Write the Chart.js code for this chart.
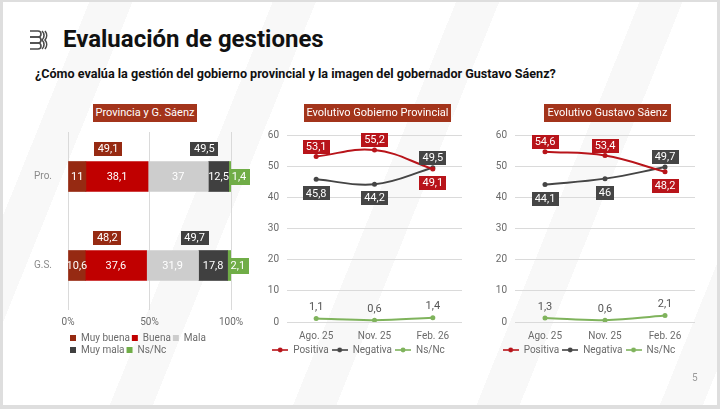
<!DOCTYPE html>
<html>
<head>
<meta charset="utf-8">
<script src="https://cdn.jsdelivr.net/npm/chart.js@4.4.1/dist/chart.umd.min.js"></script>
<style>
html, body { margin: 0; padding: 0; }
body { width: 720px; height: 409px; overflow: hidden; position: relative; background: #dedede; font-family: Roboto, sans-serif; }
#page { position: absolute; left: 3px; top: 2px; right: 3px; bottom: 4px;
  background: repeating-linear-gradient(112deg, #ffffff 0 80px, #f8f8f8 80px 120px, #ffffff 120px 170px); }
.abs { position: absolute; }
#logo { left: 29px; top: 29px; width: 20px; height: 22px; }
#title { left: 63px; top: 27px; font-size: 24px; line-height: 24px; font-weight: 700; color: #111; white-space: nowrap; }
#subtitle { left: 35px; top: 67px; font-size: 12.6px; line-height: 13px; font-weight: 700; color: #111; white-space: nowrap; }
.hdr { top: 104px; height: 18px; line-height: 18px; background: #a3341b; color: #fff; font-size: 11px; text-align: center; white-space: nowrap; }
.box { position: absolute; }
#pnum { left: 692px; top: 372px; font-size: 10px; color: #9a9a9a; }
</style>
</head>
<body>
<div id="page"></div>
<svg id="logo" class="abs" viewBox="0 0 20 22">
  <g fill="none" stroke="#4a4a4a" stroke-width="1.6">
    <path d="M1 2 H9 A3 3 0 0 1 9 8 H1"/>
    <path d="M1 8 H9 A3 3 0 0 1 9 14 H1"/>
    <path d="M1 14 H9 A3 3 0 0 1 9 20 H1"/>
    <path d="M13 2 A6 6 0 0 1 13 11 A6 6 0 0 1 13 20"/>
    <path d="M16 2 A7 7 0 0 1 16 11 A7 7 0 0 1 16 20"/>
  </g>
</svg>
<div id="title" class="abs">Evaluación de gestiones</div>
<div id="subtitle" class="abs">¿Cómo evalúa la gestión del gobierno provincial y la imagen del gobernador Gustavo Sáenz?</div>

<div class="box" style="left:30px;top:118px;width:230px;height:251px;"><canvas id="bars"></canvas></div>
<div class="box" style="left:255px;top:121px;width:215px;height:248px;"><canvas id="prov"></canvas></div>
<div class="box" style="left:483px;top:121px;width:220px;height:248px;"><canvas id="saenz"></canvas></div>

<div class="abs hdr" style="left:93px;width:104px;">Provincia y G. Sáenz</div>
<div class="abs hdr" style="left:304px;width:147px;">Evolutivo Gobierno Provincial</div>
<div class="abs hdr" style="left:544px;width:127px;">Evolutivo Gustavo Sáenz</div>
<div id="pnum" class="abs">5</div>

<script>
// ── datos ─────────────────────────────────────────────
const barCats   = ['Pro.', 'G.S.'];
const muyBuena  = [11, 10.6];
const buena     = [38.1, 37.6];
const mala      = [37, 31.9];
const muyMala   = [12.5, 17.8];
const nsnc      = [1.4, 2.1];
const posTotals = [49.1, 48.2];
const negTotals = [49.5, 49.7];
const pctTicks  = [0, 50, 100];

const periods   = ['Ago. 25', 'Nov. 25', 'Feb. 26'];
const provPos   = [53.1, 55.2, 49.1];
const provNeg   = [45.8, 44.2, 49.5];
const provNs    = [1.1, 0.6, 1.4];
const saenzPos  = [54.6, 53.4, 48.2];
const saenzNeg  = [44.1, 46, 49.7];
const saenzNs   = [1.3, 0.6, 2.1];

// ── colores ───────────────────────────────────────────
const C_MBUENA = '#962a12';
const C_BUENA  = '#c00000';
const C_MALA   = '#cdcdcd';
const C_MMALA  = '#404040';
const C_NSNC   = '#70ad47';
const C_POS    = '#b8141a';
const C_NEG    = '#454545';
const C_NSL    = '#7fb35c';
const C_TXT    = '#6b6b6b';
const C_GRID   = '#dadada';

Chart.defaults.font.family = 'Roboto, sans-serif';
Chart.defaults.color = C_TXT;
Chart.defaults.animation = false;

const fmt = v => String(v).replace('.', ',');

function rectFill(ctx, x, y, w, h, bg) {
  ctx.fillStyle = bg;
  ctx.fillRect(Math.round(x), Math.round(y), Math.round(w), Math.round(h));
}

function boxLabel(ctx, text, cx, cy, bg, minW) {
  ctx.font = '11px Roboto, sans-serif';
  const w = Math.max(ctx.measureText(text).width + 6, minW || 0);
  const h = 14;
  rectFill(ctx, cx - w / 2, cy - h / 2, w, h, bg);
  ctx.fillStyle = '#fff';
  ctx.textAlign = 'center';
  ctx.textBaseline = 'middle';
  ctx.fillText(text, cx, cy + 0.5);
}

// ── etiquetas de barras ───────────────────────────────
const barLabels = {
  id: 'barLabels',
  afterDatasetsDraw(chart) {
    const ctx = chart.ctx;
    const xs = chart.scales.x;
    ctx.save();
    chart.data.datasets.forEach((ds, di) => {
      const meta = chart.getDatasetMeta(di);
      meta.data.forEach((el, i) => {
        const v = ds.data[i];
        ctx.font = '11px Roboto, sans-serif';
        ctx.textAlign = 'center';
        ctx.textBaseline = 'middle';
        if (di === 4) {
          // Ns/Nc: caja verde al final de la barra
          const w = ctx.measureText(fmt(v)).width + 6;
          rectFill(ctx, el.base, el.y - 8, w, 16, C_NSNC);
          ctx.fillStyle = '#fff';
          ctx.fillText(fmt(v), el.base + w / 2, el.y + 0.5);
          return;
        }
        ctx.fillStyle = '#fff';
        ctx.fillText(fmt(v), (el.x + el.base) / 2, el.y + 0.5);
      });
    });
    // totales positivos / negativos
    chart.getDatasetMeta(0).data.forEach((el, i) => {
      const cy = el.y - 28;
      boxLabel(ctx, fmt(posTotals[i]), xs.getPixelForValue(posTotals[i] / 2), cy, C_MBUENA, 28);
      const nx = xs.getPixelForValue(muyBuena[i] + buena[i] + mala[i]) - 4;
      boxLabel(ctx, fmt(negTotals[i]), nx, cy, C_MMALA, 28);
    });
    ctx.restore();
  },
};

new Chart(document.getElementById('bars'), {
  type: 'bar',
  data: {
    labels: barCats,
    datasets: [
      { label: 'Muy buena', data: muyBuena, backgroundColor: C_MBUENA },
      { label: 'Buena',     data: buena,    backgroundColor: C_BUENA },
      { label: 'Mala',      data: mala,     backgroundColor: C_MALA },
      { label: 'Muy mala',  data: muyMala,  backgroundColor: C_MMALA },
      { label: 'Ns/Nc',     data: nsnc,     backgroundColor: C_NSNC },
    ],
  },
  options: {
    indexAxis: 'y',
    responsive: true,
    maintainAspectRatio: false,
    barThickness: 30,
    layout: { padding: { left: 0, right: 29, top: 6, bottom: 4 } },
    plugins: {
      legend: {
        position: 'bottom', align: 'start', fullSize: false,
        labels: { boxWidth: 6, boxHeight: 6, padding: 2, font: { size: 10 }, color: C_TXT },
      },
      tooltip: { enabled: false },
    },
    scales: {
      x: {
        stacked: true, min: 0, max: 100,
        afterBuildTicks: s => { s.ticks = pctTicks.map(v => ({ value: v })); },
        afterFit: s => { s.height = 21; },
        ticks: { callback: v => v + '%', font: { size: 10 }, padding: 6, color: C_TXT },
        grid: { color: C_GRID, drawTicks: false },
        border: { display: false },
      },
      y: {
        stacked: true,
        afterFit: s => { s.width = 38; },
        ticks: { font: { size: 10 }, color: '#8a8a8a', padding: 8 },
        grid: { display: false },
        border: { display: false },
      },
    },
  },
  plugins: [barLabels],
});

// ── gráficos de líneas ────────────────────────────────
function legendMarker(color) {
  const c = document.createElement('canvas');
  c.width = 16; c.height = 8;
  const g = c.getContext('2d');
  g.strokeStyle = color; g.lineWidth = 1.6;
  g.beginPath(); g.moveTo(0, 4); g.lineTo(16, 4); g.stroke();
  g.fillStyle = color;
  g.beginPath(); g.arc(8, 4, 2.4, 0, Math.PI * 2); g.fill();
  return c;
}

const lineLabels = {
  id: 'lineLabels',
  afterDatasetsDraw(chart) {
    const ctx = chart.ctx;
    const ds = chart.data.datasets;
    ctx.save();
    ds.forEach((d, di) => {
      const meta = chart.getDatasetMeta(di);
      meta.data.forEach((pt, i) => {
        const v = d.data[i];
        if (di === 2) {
          ctx.font = '11px Roboto, sans-serif';
          ctx.fillStyle = '#555';
          ctx.textAlign = 'center';
          ctx.textBaseline = 'middle';
          ctx.fillText(fmt(v), pt.x, pt.y - 11);
          return;
        }
        const other = ds[1 - di].data[i];
        const above = v >= other;
        const cy = above ? pt.y - 10 : pt.y + 14;
        boxLabel(ctx, fmt(v), pt.x, cy, d.borderColor, 0);
      });
    });
    ctx.restore();
  },
};

function makeLine(id, pos, neg, ns) {
  const series = [
    { label: 'Positiva', data: pos, borderColor: C_POS },
    { label: 'Negativa', data: neg, borderColor: C_NEG },
    { label: 'Ns/Nc',    data: ns,  borderColor: C_NSL },
  ].map(s => ({
    ...s, backgroundColor: s.borderColor, pointBackgroundColor: s.borderColor,
    borderWidth: 2, pointRadius: 2.5, pointBorderWidth: 0, tension: 0.4,
  }));

  return new Chart(document.getElementById(id), {
    type: 'line',
    data: { labels: periods, datasets: series },
    options: {
      responsive: true,
      maintainAspectRatio: false,
      layout: { padding: { left: 0, right: 8, top: 10, bottom: 4 } },
      plugins: {
        legend: {
          position: 'bottom',
          labels: {
            usePointStyle: true, pointStyleWidth: 16, padding: 3,
            font: { size: 10 }, color: C_TXT,
            generateLabels: ch => ch.data.datasets.map((d, i) => ({
              text: d.label, pointStyle: legendMarker(d.borderColor),
              fillStyle: d.borderColor, strokeStyle: d.borderColor, lineWidth: 0,
              fontColor: C_TXT, datasetIndex: i, hidden: false,
            })),
          },
        },
        tooltip: { enabled: false },
      },
      scales: {
        x: {
          offset: true,
          ticks: { font: { size: 10 }, color: C_TXT, padding: 0 },
          grid: { display: false },
          border: { display: false },
        },
        y: {
          min: 0, max: 60,
          afterFit: s => { s.width = 32; },
          ticks: { stepSize: 10, font: { size: 10 }, color: C_TXT, padding: 8 },
          grid: { color: C_GRID, drawTicks: false },
          border: { display: false },
        },
      },
    },
    plugins: [lineLabels],
  });
}

makeLine('prov', provPos, provNeg, provNs);
makeLine('saenz', saenzPos, saenzNeg, saenzNs);
</script>
</body>
</html>
